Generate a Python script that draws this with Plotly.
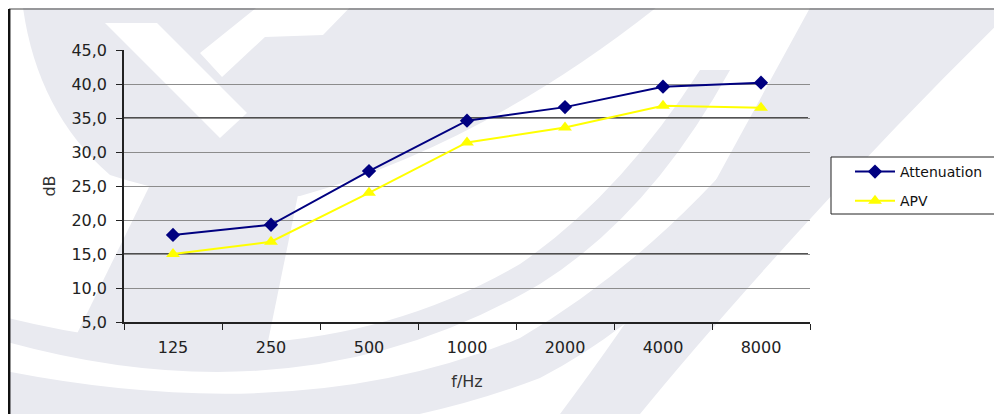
import plotly.graph_objects as go

# ---- data ----
frequencies = ["125", "250", "500", "1000", "2000", "4000", "8000"]
attenuation = [17.8, 19.3, 27.2, 34.6, 36.6, 39.6, 40.2]
apv = [15.0, 16.8, 24.0, 31.4, 33.6, 36.8, 36.5]
y_tick_values = [5, 10, 15, 20, 25, 30, 35, 40, 45]
dark_grid_values = [15, 35]

# ---- layout geometry (page pixels; the page body has an 8px offset) ----
OFF = 8
W, H = 1002, 414
PL, PR, PT, PB = 124, 810, 50, 322


def pt(x, y):
    return f"{(x - PL) / (PR - PL):.4f},{(PB - y) / (PB - PT):.4f}"


def px_x(x):
    return (x - PL) / (PR - PL)


def px_y(y):
    return (PB - y) / (PB - PT)


def make_path(cmds):
    out = []
    for c in cmds:
        if c[0] == "Z":
            out.append("Z")
        else:
            out.append(c[0] + " " + " ".join(pt(*p) for p in c[1:]))
    return " ".join(out)


WM = "#e9eaf0"
watermark = [
    # large disk upper-left
    (WM, [("M", (22, -20)), ("L", (22, 0)), ("Q", (35, 110), (110, 175)),
          ("Q", (200, 205), (300, 196)), ("Q", (500, 140), (690, -20)), ("Z",)]),
    # diagonal band lower-left
    (WM, [("M", (150, 185)), ("L", (300, 185)), ("L", (263, 366)), ("L", (68, 352)), ("Z",)]),
    # lower arc 1
    (WM, [("M", (0, 316)), ("Q", (300, 392), (520, 264)), ("Q", (620, 195), (700, 70)),
          ("L", (730, 70)), ("Q", (650, 215), (540, 284)), ("Q", (300, 425), (0, 340)), ("Z",)]),
    # lower arc 2
    (WM, [("M", (0, 370)), ("Q", (300, 430), (520, 338)), ("Q", (650, 262), (760, 130)),
          ("L", (795, 130)), ("Q", (690, 300), (540, 378)), ("Q", (300, 470), (0, 414)), ("Z",)]),
    # right wide band
    (WM, [("M", (817, -5)), ("L", (1002, -5)), ("L", (1002, 20)), ("Q", (900, 120), (800, 230)),
          ("Q", (700, 340), (640, 414)), ("L", (560, 414)), ("Q", (645, 300), (705, 200)),
          ("Q", (765, 90), (817, -5)), ("Z",)]),
    # white chevrons
    ("white", [("M", (105, 23)), ("L", (157, 23)), ("L", (247, 113)), ("L", (220, 138)), ("Z",)]),
    ("white", [("M", (200, 53)), ("L", (266, 0)), ("L", (357, 0)), ("L", (323, 35)),
               ("L", (265, 37)), ("L", (222, 77)), ("Z",)]),
]

shapes = []
for color, cmds in watermark:
    shapes.append(dict(type="path", xref="paper", yref="paper", path=make_path(cmds),
                       fillcolor=color, line=dict(width=0), layer="below"))

# dark grid lines
for v in dark_grid_values:
    shapes.append(dict(type="line", xref="paper", yref="y", x0=0, x1=px_x(808),
                       y0=v, y1=v, line=dict(color="#1a1a1a", width=1.5), layer="below"))

# outer frame: top line and thick left line
shapes.append(dict(type="line", xref="paper", yref="paper",
                   x0=px_x(9), x1=px_x(1002), y0=px_y(9), y1=px_y(9),
                   line=dict(color="#444444", width=1)))
shapes.append(dict(type="line", xref="paper", yref="paper",
                   x0=px_x(9.2), x1=px_x(9.2), y0=px_y(9), y1=px_y(416),
                   line=dict(color="#111111", width=2.5)))
# legend box
shapes.append(dict(type="rect", xref="paper", yref="paper",
                   x0=px_x(831), x1=px_x(1001), y0=px_y(157), y1=px_y(214),
                   line=dict(color="#222222", width=1), fillcolor="white"))

FONT = "DejaVu Sans"

fig = go.Figure()
fig.add_trace(go.Scatter(
    x=frequencies, y=attenuation, name="Attenuation", mode="lines+markers",
    legendgroup="att",
    line=dict(color="#000080", width=2),
    marker=dict(symbol="diamond", size=11, color="#000080"),
))
fig.add_trace(go.Scatter(
    x=frequencies, y=apv, name="APV", mode="lines+markers",
    legendgroup="apv",
    line=dict(color="#ffff00", width=2),
    marker=dict(symbol="triangle-up", size=12, color="#ffff00"),
))

fig.update_layout(
    width=W - OFF, height=H - OFF,
    margin=dict(l=PL - OFF, r=W - PR, t=PT - OFF, b=H - PB, pad=0),
    paper_bgcolor="white", plot_bgcolor="rgba(0,0,0,0)",
    separators=",.",
    font=dict(family=FONT, size=16, color="#222222"),
    shapes=shapes,
    showlegend=True,
    legend=dict(
        x=px_x(850), xanchor="left",
        y=px_y(156), yanchor="top",
        bgcolor="rgba(0,0,0,0)", borderwidth=0,
        font=dict(family=FONT, size=14, color="#111111"),
        tracegroupgap=8, itemwidth=40,
    ),
)
fig.update_xaxes(
    type="category", range=[-0.5, len(frequencies) - 0.5],
    showline=True, linecolor="#222222", linewidth=1.5,
    ticks="outside", tickson="boundaries", ticklen=6, tickcolor="#222222",
    showgrid=False, zeroline=False, ticklabelstandoff=10,
    tickfont=dict(family=FONT, size=16, color="#222222"),
    title=dict(text="f/Hz", font=dict(family=FONT, size=16, color="#333333"), standoff=20),
    fixedrange=True,
)
fig.update_yaxes(
    range=[5, 45], tickvals=y_tick_values, tickformat=".1f",
    showline=True, linecolor="#222222", linewidth=1.5,
    ticks="outside", ticklen=6, tickcolor="#222222",
    showgrid=True, gridcolor="#8c8c8c", gridwidth=1, zeroline=False,
    ticklabelstandoff=6,
    tickfont=dict(family=FONT, size=16, color="#222222"),
    title=dict(text="dB", font=dict(family=FONT, size=16, color="#333333"), standoff=12),
    fixedrange=True,
)

fig.write_html("out.html")
